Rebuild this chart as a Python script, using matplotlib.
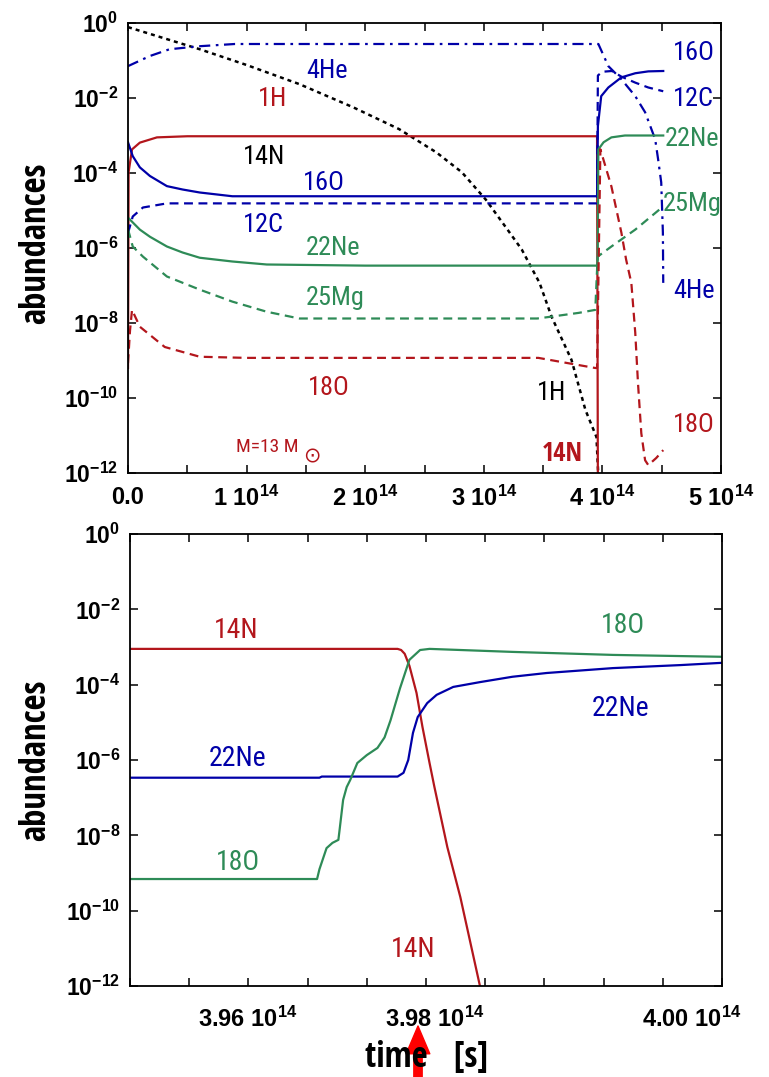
import numpy as np
import matplotlib.pyplot as plt
from matplotlib import font_manager
from matplotlib.font_manager import FontProperties
from matplotlib.ticker import FixedLocator, NullLocator, MultipleLocator

plt.rcParams['font.family'] = ['Liberation Sans', 'DejaVu Sans']
plt.rcParams['mathtext.fontset'] = 'custom'
plt.rcParams['mathtext.rm'] = 'Liberation Sans'
plt.rcParams['mathtext.bf'] = 'Liberation Sans:bold'
plt.rcParams['mathtext.it'] = 'Liberation Sans:italic'


# the original uses a condensed helvetica-like face; pick one if installed
def find_condensed(bold):
    prefs = ['Liberation Sans Narrow', 'Noto Sans', 'Open Sans', 'Roboto', 'DejaVu Sans', 'Lato', 'Inter']
    best, best_rank = None, None
    for f in font_manager.fontManager.ttflist:
        if f.stretch not in ('condensed', 'semi-condensed') or f.style != 'normal':
            continue
        if 'CJK' in f.name or 'Mono' in f.name or 'Serif' in f.name or 'Italic' in f.fname:
            continue
        try:
            w = int(f.weight)
        except (TypeError, ValueError):
            w = 700 if 'bold' in str(f.weight) else 400
        if (bold and w != 700) or (not bold and w != 400):
            continue
        pi = next((i for i, p in enumerate(prefs) if f.name.startswith(p)), len(prefs))
        rank = (pi, 0 if f.stretch == 'condensed' else 1)
        if best_rank is None or rank < best_rank:
            best, best_rank = f.fname, rank
    return best


COND = find_condensed(False)
COND_B = find_condensed(True)
k = 1.0 if COND else 0.86


def fp(size, bold=False):
    path = COND_B if bold else COND
    if path:
        return FontProperties(fname=path, size=size)
    return FontProperties(family='Liberation Sans', size=size * k, weight='bold' if bold else 'normal')


RED = '#b3161c'
BLUE = '#0000a8'
GREEN = '#2e8b57'

# ---------------- upper panel: whole burning phase ----------------
# time in 1e14 s, abundances as log10
t_h1 = [0.0, 0.605, 1.0, 1.445, 1.9, 2.286, 2.6, 2.815, 3.017, 3.2, 3.32, 3.47, 3.571, 3.739, 3.857, 3.95, 3.966]
h1 = [-0.11, -0.70, -1.12, -1.63, -2.25, -2.83, -3.45, -3.98, -4.71, -5.51, -6.04, -6.93, -7.83, -8.98, -10.32, -11.04, -12.1]

t_he4 = [0.0, 0.185, 0.35, 0.6, 0.9, 3.95, 3.966, 4.05, 4.16, 4.277, 4.36, 4.445, 4.47, 4.496, 4.51, 4.513]
he4 = [-1.15, -0.88, -0.70, -0.62, -0.56, -0.56, -0.56, -1.15, -1.5, -1.95, -2.38, -3.10, -3.64, -4.25, -5.59, -6.93]

t_n14 = [0.0, 0.005, 0.034, 0.1, 0.244, 0.5, 3.955, 3.962]
n14 = [-9.2, -3.98, -3.37, -3.19, -3.05, -3.02, -3.02, -12.5]

t_o16 = [0.0, 0.04, 0.1, 0.185, 0.328, 0.46, 0.605, 0.88, 3.955, 3.962, 3.99, 4.05, 4.16, 4.277, 4.387, 4.513]
o16 = [-3.18, -3.55, -3.85, -4.08, -4.35, -4.44, -4.52, -4.62, -4.62, -2.75, -1.95, -1.72, -1.45, -1.34, -1.29, -1.28]

t_c12 = [0.0, 0.04, 0.126, 0.328, 3.955, 3.962, 4.0, 4.08, 4.16, 4.277, 4.387, 4.513]
c12 = [-5.6, -5.16, -4.92, -4.81, -4.81, -1.4, -1.3, -1.28, -1.43, -1.59, -1.72, -1.82]

t_ne22 = [0.0, 0.1, 0.185, 0.328, 0.46, 0.605, 0.88, 1.17, 2.0, 3.955, 3.96, 3.966, 4.01, 4.076, 4.19, 4.513]
ne22 = [-5.19, -5.51, -5.70, -5.96, -6.12, -6.26, -6.36, -6.44, -6.47, -6.47, -6.3, -3.37, -3.18, -3.05, -3.0, -3.0]

t_mg25 = [0.0, 0.04, 0.126, 0.328, 0.605, 0.88, 1.17, 1.445, 3.45, 3.571, 3.8, 3.94, 3.96, 4.076, 4.277, 4.513]
mg25 = [-5.5, -5.96, -6.23, -6.76, -7.11, -7.43, -7.70, -7.88, -7.88, -7.83, -7.73, -7.65, -6.23, -5.96, -5.51, -4.89]

t_o18 = [0.0, 0.017, 0.034, 0.1, 0.31, 0.605, 1.0, 3.46, 3.69, 3.94, 3.955, 3.983, 4.076, 4.16, 4.2,
         4.244, 4.277, 4.30, 4.328, 4.36, 4.387, 4.454, 4.513]
o18 = [-9.07, -8.2, -7.65, -8.1, -8.64, -8.9, -8.93, -8.93, -9.06, -9.2, -9.2, -3.37, -4.36, -5.59, -6.31,
       -6.93, -8.26, -9.6, -10.94, -11.66, -11.79, -11.6, -11.39]

# ---------------- lower panel: zoom on the end of H burning ----------------
tz_n14 = [3.95, 3.9726, 3.9729, 3.9732, 3.9736, 3.9742, 3.9747, 3.9753, 3.9757, 3.9768, 3.9779, 3.9787, 3.9795, 3.9797]
z_n14 = [-3.05, -3.05, -3.08, -3.18, -3.50, -4.22, -5.12, -6.08, -6.7, -8.31, -9.64, -10.78, -11.92, -12.2]

tz_ne22 = [3.95, 3.966, 3.9662, 3.9726, 3.9731, 3.9735, 3.9739, 3.9743, 3.9751, 3.9759, 3.9773, 3.9796,
           3.9823, 3.9852, 3.9908, 3.9965, 4.0]
z_ne22 = [-6.47, -6.47, -6.44, -6.44, -6.34, -6.0, -5.28, -4.86, -4.49, -4.27, -4.06, -3.93,
          -3.79, -3.69, -3.56, -3.48, -3.42]

tz_o18 = [3.95, 3.9658, 3.966, 3.9666, 3.9671, 3.9676, 3.9677, 3.968, 3.9683, 3.9686, 3.9692, 3.97,
          3.9709, 3.9715, 3.972, 3.9728, 3.9736, 3.9745, 3.9753, 3.9823, 3.9908, 4.0]
z_o18 = [-9.16, -9.16, -8.9, -8.34, -8.2, -8.12, -7.86, -7.06, -6.72, -6.53, -6.08, -5.87,
         -5.68, -5.4, -4.95, -4.1, -3.34, -3.08, -3.05, -3.13, -3.21, -3.26]

ylog_ticks = [-12, -10, -8, -6, -4, -2, 0]
top_xticks = [0, 1, 2, 3, 4, 5]
top_xlabels = ['0.0', r'$\mathbf{1\ 10^{14}}$', r'$\mathbf{2\ 10^{14}}$', r'$\mathbf{3\ 10^{14}}$',
               r'$\mathbf{4\ 10^{14}}$', r'$\mathbf{5\ 10^{14}}$']
# label positions as they sit in the original (not evenly spaced)
bot_xticks = [3.9599, 3.9757, 3.9974]
bot_xlabels = [r'$\mathbf{3.96\ 10^{14}}$', r'$\mathbf{3.98\ 10^{14}}$', r'$\mathbf{4.00\ 10^{14}}$']


def lg(v):
    return 10.0 ** np.asarray(v)


fig = plt.figure(figsize=(7.69, 10.77), dpi=100)
ax1 = fig.add_axes([128 / 769, 1 - 473 / 1077, 593 / 769, 450 / 1077])
ax2 = fig.add_axes([130 / 769, 1 - 986 / 1077, 592 / 769, 452 / 1077])

lw = 1.6
dash = (0, (4, 2.5))
ax1.plot(t_h1, lg(h1), color='black', lw=1.8, linestyle=(0, (1.6, 1.6)))
ax1.plot(t_he4, lg(he4), color=BLUE, lw=1.6, linestyle=(0, (5, 2.5, 1.2, 2.5)))
ax1.plot(t_n14, lg(n14), color=RED, lw=lw)
ax1.plot(t_o16, lg(o16), color=BLUE, lw=lw)
ax1.plot(t_c12, lg(c12), color=BLUE, lw=lw, linestyle=dash)
ax1.plot(t_ne22, lg(ne22), color=GREEN, lw=lw)
ax1.plot(t_mg25, lg(mg25), color=GREEN, lw=lw, linestyle=dash)
ax1.plot(t_o18, lg(o18), color=RED, lw=lw, linestyle=dash)

ax2.plot(tz_n14, lg(z_n14), color=RED, lw=lw)
ax2.plot(tz_ne22, lg(z_ne22), color=BLUE, lw=lw)
ax2.plot(tz_o18, lg(z_o18), color=GREEN, lw=lw)

for ax in (ax1, ax2):
    ax.set_yscale('log')
    ax.set_ylim(1e-12, 1.0)
    ax.yaxis.set_major_locator(FixedLocator(lg(ylog_ticks)))
    ax.yaxis.set_minor_locator(NullLocator())
    ax.set_yticklabels([r'$\mathbf{10^{%d}}$' % e for e in ylog_ticks])
    ax.tick_params(which='both', direction='in', top=True, right=True, length=6, width=1.1)
    ax.tick_params(axis='y', labelsize=16.5, pad=7)
    ax.tick_params(axis='x', labelsize=17, pad=9)
    for s in ax.spines.values():
        s.set_linewidth(1.3)

ax1.set_xlim(0, 5)
ax1.set_xticks(top_xticks)
ax1.set_xticklabels(top_xlabels)
ax1.xaxis.set_minor_locator(MultipleLocator(0.5))
ax1.get_xticklabels()[0].set_fontweight('bold')

ax2.set_xlim(3.95, 4.0)
ax2.set_xticks(bot_xticks)
ax2.set_xticklabels(bot_xlabels)
ax2.xaxis.set_minor_locator(MultipleLocator(0.005))
ax2.tick_params(axis='x', which='major', length=0, pad=15)


def lab(ax, x, y, s, color, size, bold=False):
    ax.text(x, lg(y), s, color=color, fontproperties=fp(size, bold), ha='center', va='center')


# upper panel labels
tl = 19
lab(ax1, 1.68, -1.28, '4He', BLUE, tl)
lab(ax1, 1.22, -2.03, '1H', RED, tl)
lab(ax1, 1.15, -3.58, '14N', 'black', tl)
lab(ax1, 1.65, -4.28, '16O', BLUE, tl)
lab(ax1, 1.14, -5.40, '12C', BLUE, tl)
lab(ax1, 1.73, -5.99, '22Ne', GREEN, tl)
lab(ax1, 1.75, -7.33, '25Mg', GREEN, tl)
lab(ax1, 1.69, -9.73, '18O', RED, tl)
lab(ax1, 3.575, -9.87, '1H', 'black', tl)
lab(ax1, 3.66, -11.47, '14N', RED, tl, bold=True)
lab(ax1, 4.77, -10.72, '18O', RED, tl)
lab(ax1, 4.77, -7.14, '4He', BLUE, tl)
lab(ax1, 4.77, -0.80, '16O', BLUE, tl)
lab(ax1, 4.77, -2.03, '12C', BLUE, tl)
lab(ax1, 4.76, -3.10, '22Ne', GREEN, tl)
lab(ax1, 4.76, -4.84, '25Mg', GREEN, tl)
lab(ax1, 1.17, -11.31, 'M=13 M', RED, 14)
ax1.text(1.55, lg(-11.55), '\u2299', color=RED, fontsize=15, family='DejaVu Sans', ha='center', va='center')

# lower panel labels
bl = 20
lab(ax2, 3.959, -2.57, '14N', RED, bl)
lab(ax2, 3.9591, -5.97, '22Ne', BLUE, bl)
lab(ax2, 3.9591, -8.71, '18O', GREEN, bl)
lab(ax2, 3.9916, -2.42, '18O', GREEN, bl)
lab(ax2, 3.9914, -4.62, '22Ne', BLUE, bl)
lab(ax2, 3.9739, -11.04, '14N', RED, bl)

# axis titles
for yc in (243, 760):
    fig.text(36 / 769, 1 - yc / 1077, 'abundances', rotation=90, fontproperties=fp(25, True),
             ha='center', va='center')
fig.text(427 / 769, 1 - 1058 / 1077, 'time   [s]', fontproperties=fp(25, True), ha='center', va='center')

# red arrow pointing at 3.98
ax2.annotate('', xy=(418, 1077 - 1026), xycoords='figure pixels',
             xytext=(418, -5), textcoords='figure pixels',
             arrowprops=dict(arrowstyle='simple,head_width=1.7,head_length=2.0,tail_width=0.6',
                             color='#ff0000', mutation_scale=10, shrinkA=0, shrinkB=0))

fig.savefig('out.png', dpi=100)
